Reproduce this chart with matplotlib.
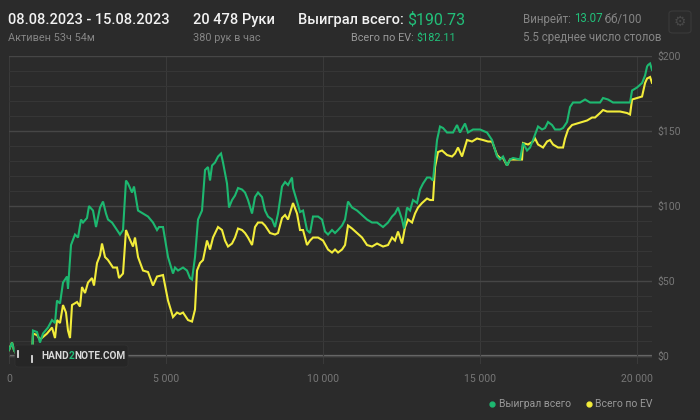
import matplotlib
matplotlib.use("Agg")
import matplotlib.pyplot as plt
from matplotlib.lines import Line2D
from matplotlib.patches import FancyBboxPatch

# --- data (hands played -> cumulative winnings, $) ---
won_hands = [
    0, 96, 159, 287, 733, 764, 892, 987, 1083, 1242, 1370, 1465, 1529, 1624, 1720, 1847, 1879,
    1975, 2102, 2198, 2293, 2357, 2484, 2548, 2675, 2771, 2898, 2994, 3089, 3153, 3281, 3376,
    3535, 3631, 3726, 3790, 3918, 3981, 4109, 4268, 4427, 4586, 4714, 4778, 4905, 5064, 5223,
    5287, 5383, 5542, 5669, 5765, 5829, 5924, 6020, 6147, 6243, 6338, 6402, 6466, 6561, 6657,
    6752, 6816, 6943, 7007, 7103, 7198, 7294, 7421, 7517, 7612, 7740, 7835, 7931, 8058, 8154,
    8249, 8377, 8472, 8568, 8695, 8791, 8886, 9013, 9045, 9173, 9268, 9364, 9491, 9587, 9682,
    9842, 9969, 10064, 10160, 10287, 10383, 10479, 10606, 10702, 10797, 10925, 11084, 11243,
    11402, 11562, 11721, 11912, 12071, 12199, 12294, 12390, 12517, 12581, 12676, 12772, 12867,
    12995, 13090, 13186, 13313, 13409, 13504, 13632, 13727, 13823, 13950, 14046, 14141, 14269,
    14364, 14523, 14619, 14778, 15001, 15224, 15383, 15543, 15638, 15734, 15861, 15957, 16052,
    16275, 16371, 16498, 16594, 16689, 16849, 16976, 17072, 17167, 17295, 17390, 17550, 17645,
    17773, 17868, 17964, 18186, 18346, 18505, 18664, 18824, 18919, 19078, 19237, 19460, 19683,
    19779, 19843, 20002, 20161, 20257, 20321, 20353, 20416, 20478,
]
won_total = [
    4, 9, 4, -1, -1, 17, 16, 9, 15, 19, 24, 22, 37, 35, 49, 53, 45,
    74, 81, 79, 91, 89, 92, 100, 97, 86, 99, 103, 95, 91, 89, 86,
    81, 84, 117, 115, 109, 113, 97, 95, 93, 89, 84, 86, 86, 66, 55,
    59, 57, 59, 57, 52, 51, 66, 91, 97, 124, 126, 117, 127, 129, 133,
    135, 129, 115, 99, 104, 107, 112, 111, 109, 104, 95, 106, 109, 106, 97,
    93, 91, 86, 95, 113, 116, 114, 119, 112, 103, 96, 97, 84, 82, 93,
    93, 91, 83, 81, 84, 82, 84, 87, 91, 103, 99, 97, 94,
    91, 89, 89, 86, 89, 93, 95, 99, 91, 85, 99, 97, 104,
    102, 111, 115, 119, 119, 117, 144, 153, 152, 149, 149, 149, 154,
    149, 155, 149, 151, 151, 149, 144, 133, 131, 133, 127, 131, 132,
    131, 142, 137, 139, 144, 153, 151, 152, 156, 154, 151, 151, 152,
    156, 166, 169, 169, 171, 169, 169, 169, 172, 171, 169, 169, 169,
    169, 177, 179, 182, 187, 193, 194, 195, 190.73,
]

ev_hands = [
    0, 96, 159, 287, 733, 764, 892, 987, 1210, 1370, 1465, 1529, 1624, 1720, 1815, 1879, 1943,
    2007, 2166, 2261, 2325, 2421, 2516, 2644, 2707, 2803, 2898, 2962, 3058, 3153, 3312, 3440,
    3504, 3631, 3726, 3822, 3949, 4013, 4109, 4268, 4427, 4586, 4714, 4905, 5064, 5223, 5351,
    5446, 5542, 5701, 5829, 5924, 5988, 6083, 6179, 6306, 6402, 6497, 6657, 6784, 6880, 6975,
    7103, 7198, 7294, 7421, 7517, 7612, 7740, 7835, 7931, 8058, 8154, 8313, 8472, 8568, 8695,
    8791, 8886, 9045, 9173, 9268, 9364, 9491, 9587, 9682, 9842, 10001, 10160, 10287, 10383,
    10479, 10606, 10702, 10797, 10925, 11084, 11243, 11402, 11562, 11721, 11912, 12071, 12199,
    12294, 12390, 12517, 12613, 12708, 12836, 12931, 13027, 13154, 13313, 13409, 13504, 13568,
    13664, 13791, 13950, 14110, 14205, 14300, 14428, 14587, 14746, 14906, 15097, 15256, 15383,
    15543, 15638, 15734, 15861, 15957, 16180, 16339, 16371, 16530, 16689, 16753, 16849, 17008,
    17136, 17231, 17327, 17486, 17645, 17709, 17805, 17932, 18091, 18250, 18409, 18569, 18664,
    18824, 18919, 19046, 19237, 19460, 19683, 19779, 19843, 20002, 20161, 20257, 20321, 20416,
    20478,
]
ev_total = [
    4, 9, 4, -1, -1, 15, 14, 11, 15, 19, 12, 24, 22, 34, 29, 17, 12,
    34, 36, 33, 46, 42, 49, 52, 47, 62, 67, 75, 66, 64, 59, 59,
    52, 55, 84, 79, 73, 79, 66, 57, 56, 47, 53, 54, 37, 26, 29,
    28, 29, 24, 23, 31, 57, 62, 64, 77, 71, 79, 86, 84, 77, 73,
    75, 79, 85, 84, 82, 79, 74, 86, 89, 89, 87, 82, 81, 82, 92,
    94, 91, 102, 95, 84, 84, 74, 77, 79, 79, 77, 71, 69, 71,
    69, 71, 74, 87, 85, 82, 79, 74, 73, 75, 73, 74, 79,
    77, 83, 75, 86, 91, 89, 95, 99, 102, 105, 104, 104, 126,
    136, 137, 134, 133, 135, 139, 133, 144, 143, 145, 144, 143, 143,
    134, 132, 132, 127, 131, 131, 131, 142, 141, 143, 145, 141, 139,
    143, 144, 141, 139, 139, 145, 151, 154, 155, 156, 157, 159, 159,
    162, 164, 163, 163, 163, 162, 161, 171, 172, 173, 182, 185, 186,
    182.11,
]

x_ticks = [0, 5000, 10000, 15000, 20000]
x_labels = ["0", "5 000", "10 000", "15 000", "20 000"]
y_ticks = [0, 50, 100, 150, 200]
y_labels = ["$0", "$50", "$100", "$150", "$200"]

BG = "#2b2b2b"
GREEN = "#1db870"
GREEN_TXT = "#22c07a"
YELLOW = "#f2ec3a"
GREY = "#858585"
WHITE = "#f2f2f2"

plt.rcParams["font.family"] = ["Roboto", "DejaVu Sans"]

fig = plt.figure(figsize=(7, 4.2), dpi=100, facecolor=BG)
W, H = 700, 420


def fx(px):
    return px / W


def fy(py):
    return 1 - py / H


ax = fig.add_axes([fx(9), fy(364), (652 - 9) / W, (364 - 56) / H])
ax.set_facecolor(BG)
for s in ax.spines.values():
    s.set_visible(False)

ax.set_xlim(0, won_hands[-1])
ax.set_ylim(-5.3, 200)

# grid
ax.set_yticks(y_ticks)
ax.set_yticks(range(10, 200, 10), minor=True)
ax.grid(which="minor", axis="y", color="#363636", lw=0.8)
ax.grid(which="major", axis="y", color="#464646", lw=1.0)
ax.set_xticks(x_ticks)
ax.grid(which="major", axis="x", color="#3a3a3a", lw=0.8)
ax.axvline(won_hands[-1], color="#3a3a3a", lw=0.8)
ax.axhline(0, color="#6e6e6e", lw=1.6, zorder=1.5)

ax.yaxis.tick_right()
ax.set_yticklabels(y_labels)
ax.set_xticklabels(x_labels)
ax.tick_params(axis="y", which="both", length=0, pad=4, labelsize=7.5, labelcolor="#777777")
ax.tick_params(axis="x", length=0, pad=7, labelsize=7.5, labelcolor="#777777")

# logo box
logo = FancyBboxPatch((fx(15), fy(367)), 113 / W, 22 / H, boxstyle="round,pad=0,rounding_size=0.006",
                      transform=fig.transFigure, facecolor="#262626", edgecolor="#303030", lw=0.6, zorder=1)
fig.add_artist(logo)
fig.add_artist(Line2D([fx(18), fx(18)], [fy(351), fy(357)], transform=fig.transFigure, color="#dddddd", lw=1.3))
fig.add_artist(Line2D([fx(32), fx(32)], [fy(356), fy(362)], transform=fig.transFigure, color="#dddddd", lw=1.3))
t1 = fig.text(fx(41), fy(356), "HAND", color="#d8d8d8", fontsize=7.3, fontweight="bold", va="center")
t2 = fig.text(0, 0, "2", color=GREEN_TXT, fontsize=7.3, fontweight="bold", va="center")
t3 = fig.text(0, 0, "NOTE.COM", color="#d8d8d8", fontsize=7.3, fontweight="bold", va="center")

ax.plot(ev_hands, ev_total, color=YELLOW, lw=1.5, zorder=3, solid_joinstyle="miter")
ax.plot(won_hands, won_total, color=GREEN, lw=1.5, zorder=4, solid_joinstyle="miter")

# header
fig.text(fx(8), fy(20), "08.08.2023 - 15.08.2023", color=WHITE, fontsize=10.5, fontweight="medium", va="center")
fig.text(fx(8), fy(38), "Активен 53ч 54м", color=GREY, fontsize=7.8, va="center")
fig.text(fx(193), fy(20), "20 478 Руки", color=WHITE, fontsize=10.5, fontweight="medium", va="center")
fig.text(fx(193), fy(38), "380 рук в час", color=GREY, fontsize=7.8, va="center")

h1 = fig.text(fx(298), fy(20), "Выиграл всего: ", color=WHITE, fontsize=10.5, fontweight="medium", va="center")
h2 = fig.text(0, 0, "$190.73", color=GREEN_TXT, fontsize=11.5, va="center")
e2 = fig.text(fx(456), fy(38), "$182.11", color=GREEN_TXT, fontsize=7.8, va="center", ha="right")
e1 = fig.text(0, 0, "Всего по EV: ", color="#9a9a9a", fontsize=7.8, va="center", ha="right")

w1 = fig.text(fx(523), fy(19), "Винрейт: ", color=GREY, fontsize=8.3, va="center")
w2 = fig.text(0, 0, "13.07", color=GREEN_TXT, fontsize=8.3, va="center")
w3 = fig.text(0, 0, " бб/100", color=GREY, fontsize=8.3, va="center")
fig.text(fx(523), fy(37), "5.5 среднее число столов", color=GREY, fontsize=8.3, va="center")

# settings button
gear_box = FancyBboxPatch((fx(669), fy(33)), 22 / W, 22 / H, boxstyle="round,pad=0,rounding_size=0.006",
                          transform=fig.transFigure, facecolor=BG, edgecolor="#3a3a3a", lw=0.8)
fig.add_artist(gear_box)
fig.text(fx(680), fy(22), "\u2699", color="#484848", fontsize=10, ha="center", va="center",
         family="DejaVu Sans")

# legend
fig.add_artist(Line2D([fx(492)], [fy(404)], transform=fig.transFigure, marker="o", ms=3.5,
                      color=GREEN, ls=""))
fig.text(fx(499), fy(404), "Выиграл всего", color="#999999", fontsize=7.5, va="center")
fig.add_artist(Line2D([fx(589)], [fy(404)], transform=fig.transFigure, marker="o", ms=3.5,
                      color=YELLOW, ls=""))
fig.text(fx(595), fy(404), "Всего по EV", color="#999999", fontsize=7.5, va="center")

# chain coloured text pieces next to each other
fig.canvas.draw()
r = fig.canvas.get_renderer()
inv = fig.transFigure.inverted()


def place_after(prev, nxt):
    bb = prev.get_window_extent(r)
    x1 = inv.transform((bb.x1, 0))[0]
    nxt.set_position((x1, prev.get_position()[1]))


def place_before(prev, nxt):
    bb = prev.get_window_extent(r)
    x0 = inv.transform((bb.x0, 0))[0]
    nxt.set_position((x0, prev.get_position()[1]))


place_after(t1, t2)
fig.canvas.draw()
place_after(t2, t3)
place_after(h1, h2)
place_before(e2, e1)
place_after(w1, w2)
fig.canvas.draw()
place_after(w2, w3)

fig.savefig("out.png", dpi=100, facecolor=BG)
